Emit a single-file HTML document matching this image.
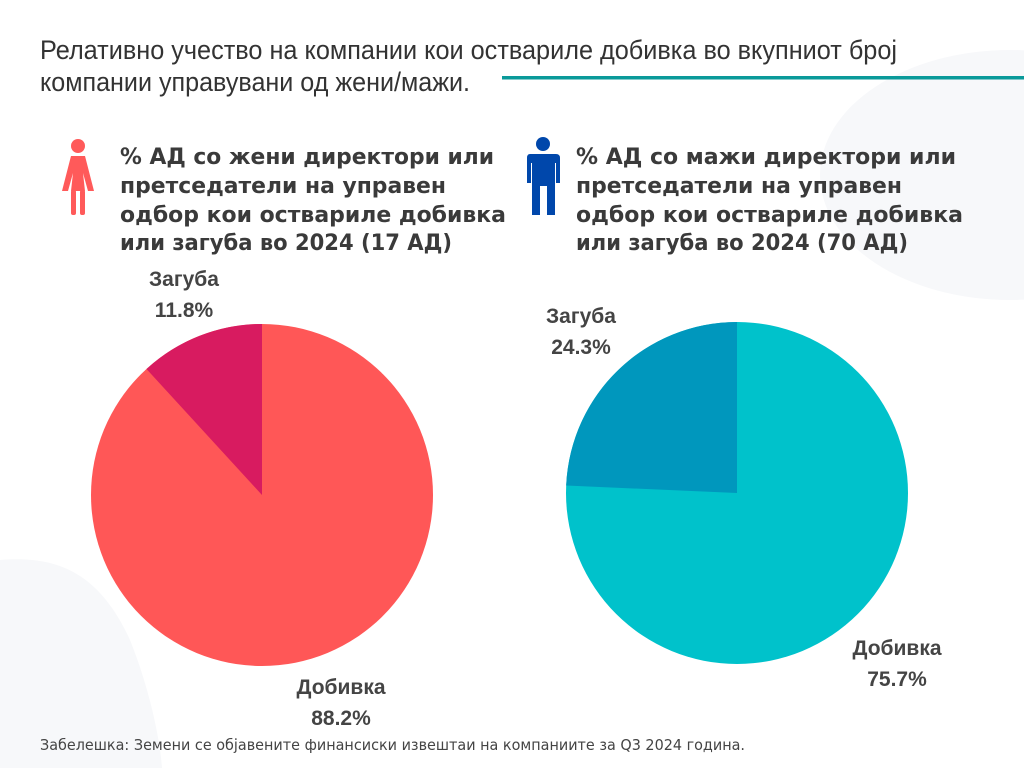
<!DOCTYPE html>
<html><head><meta charset="utf-8"><style>
html,body{margin:0;padding:0;background:#fff;}
svg{display:block;}
</style></head><body>
<svg width="1024" height="768" viewBox="0 0 1024 768" xmlns="http://www.w3.org/2000/svg">
<rect width="1024" height="768" fill="#fff"/>
<ellipse cx="1010" cy="175" rx="190" ry="125" fill="#F7F8FA"/>
<path d="M0,560 C60,555 100,575 130,640 C150,690 160,740 162,768 L0,768 Z" fill="#F7F8FA"/>
<text x="40" y="59" font-family="Liberation Sans, sans-serif" font-size="27" fill="#333" textLength="857" lengthAdjust="spacingAndGlyphs">Релативно учество на компании кои оствариле добивка во вкупниот број</text>
<text x="40" y="91" font-family="Liberation Sans, sans-serif" font-size="27" fill="#333" textLength="430" lengthAdjust="spacingAndGlyphs">компании управувани од жени/мажи.</text>
<rect x="502" y="76" width="522" height="3.5" fill="#0A9A9A"/>
<g fill="#FF5A5A">
<circle cx="78" cy="146" r="7"/>
<path d="M71,156 L85,156 L94,191 L88,191 L83,173 L85,191 L71,191 L73,173 L68,191 L62,191 Z"/>
<rect x="71" y="190" width="5" height="25" rx="2"/><rect x="80" y="190" width="5" height="25" rx="2"/>
</g>
<g fill="#0047AB">
<circle cx="543" cy="144" r="7"/>
<path d="M530,154 L556,154 Q560,154 560,158 L560,183 L556,183 L556,163 L555,163 L555,215 L547,215 L547,186 L540,186 L540,215 L532,215 L532,163 L531,163 L531,183 L527,183 L527,158 Q527,154 530,154 Z"/>
</g>
<g font-family="DejaVu Sans, sans-serif" font-weight="bold" font-size="22" fill="#3a3a3a">
<text x="120" y="164" textLength="374" lengthAdjust="spacingAndGlyphs">% АД со жени директори или</text>
<text x="120" y="193" textLength="326" lengthAdjust="spacingAndGlyphs">претседатели на управен</text>
<text x="120" y="222" textLength="386" lengthAdjust="spacingAndGlyphs">одбор кои оствариле добивка</text>
<text x="120" y="250" textLength="332" lengthAdjust="spacingAndGlyphs">или загуба во 2024 (17 АД)</text>
<text x="576" y="164" textLength="380" lengthAdjust="spacingAndGlyphs">% АД со мажи директори или</text>
<text x="576" y="193" textLength="326" lengthAdjust="spacingAndGlyphs">претседатели на управен</text>
<text x="576" y="222" textLength="387" lengthAdjust="spacingAndGlyphs">одбор кои оствариле добивка</text>
<text x="576" y="250" textLength="332" lengthAdjust="spacingAndGlyphs">или загуба во 2024 (70 АД)</text>
</g>
<circle cx="262" cy="495" r="171" fill="#FF5757"/>
<path d="M262,495 L262,324 A171,171 0 0 0 146.5,369 Z" fill="#D81B60"/>
<circle cx="737" cy="493" r="171" fill="#00C2CB"/>
<path d="M737,493 L737,322 A171,171 0 0 0 566.2,485.5 Z" fill="#0097BD"/>
<g font-family="Liberation Sans, sans-serif" font-weight="bold" font-size="21" fill="#444" text-anchor="middle">
<text x="184" y="286">Загуба</text><text x="184" y="317">11.8%</text>
<text x="581" y="323">Загуба</text><text x="581" y="354">24.3%</text>
<text x="341" y="694">Добивка</text><text x="341" y="725">88.2%</text>
<text x="897" y="655">Добивка</text><text x="897" y="686">75.7%</text>
</g>
<text x="40" y="750" font-family="DejaVu Sans, sans-serif" font-size="15" fill="#444" textLength="705" lengthAdjust="spacingAndGlyphs">Забелешка: Земени се објавените финансиски извештаи на компаниите за Q3 2024 година.</text>
</svg>
</body></html>
